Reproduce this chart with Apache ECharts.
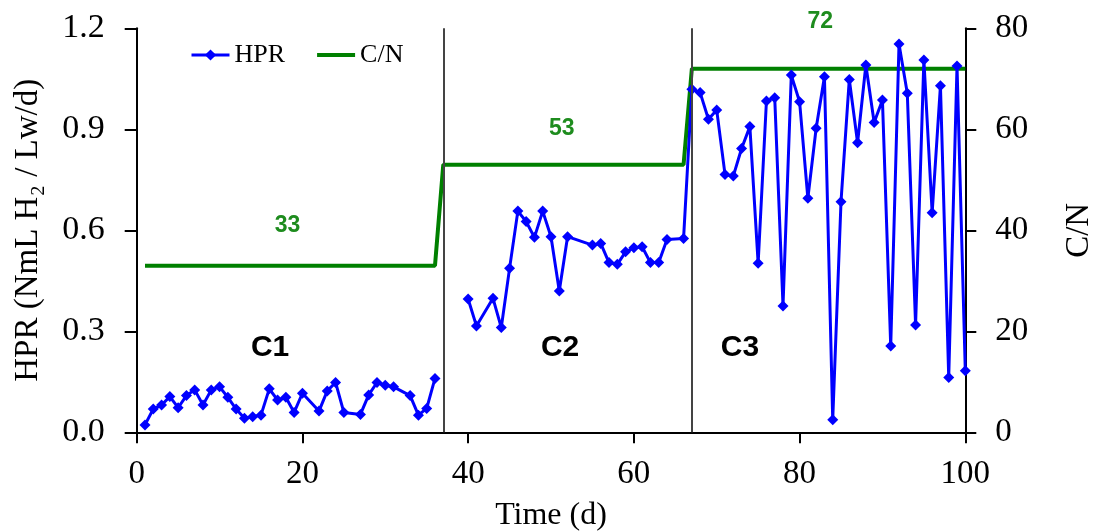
<!DOCTYPE html>
<html>
<head>
<meta charset="utf-8">
<script src="https://cdn.jsdelivr.net/npm/echarts@6/dist/echarts.min.js"></script>
<style>
html,body{margin:0;padding:0;background:#fff;}
#chart{width:1097px;height:531px;}
</style>
</head>
<body>
<div id="chart"></div>
<script>
// HPR data (day, value); null marks the gap between C1 and C2
const hprDays = [1,2,3,4,5,6,7,8,9,10,11,12,13,14,15,16,17,18,19,20,22,23,24,25,27,28,29,30,31,33,34,35,36,
  38,
  40,41,43,44,45,46,47,48,49,50,51,52,55,56,57,58,59,60,61,62,63,64,66,
  67,68,69,70,71,72,73,74,75,76,77,78,79,80,81,82,83,84,85,86,87,88,89,90,91,92,93,94,95,96,97,98,99,100];
const hprValues = [0.022,0.069,0.081,0.106,0.073,0.109,0.126,0.081,0.126,0.135,0.104,0.069,0.042,0.046,0.051,0.129,0.096,0.104,0.059,0.116,0.063,0.123,0.148,0.059,0.053,0.111,0.148,0.140,0.135,0.109,0.051,0.071,0.160,
  null,
  0.396,0.316,0.398,0.311,0.487,0.657,0.626,0.579,0.657,0.581,0.420,0.581,0.556,0.561,0.504,0.499,0.536,0.548,0.551,0.504,0.504,0.573,0.576,
  1.019,1.009,0.930,0.957,0.766,0.761,0.843,0.908,0.502,0.984,0.994,0.375,1.061,0.982,0.695,0.903,1.056,0.037,0.685,1.048,0.860,1.091,0.920,0.987,0.256,1.153,1.007,0.319,1.106,0.652,1.029,0.163,1.088,0.183];
// C/N data (step)
const cnDays = [1,36,37,66,67,100];
const cnValues = [33,33,53,53,72,72];
// Phase boundaries and labels
const phaseBounds = [37,67];
const phaseNames = ['C1','C2','C3'];
const cnLabels = ['33','53','72'];
// Axis ticks
const xTicks = [0,20,40,60,80,100];
const yLeftTicks = [0,0.3,0.6,0.9,1.2];
const yRightTicks = [0,20,40,60,80];

const serif = 'Liberation Serif, "Times New Roman", serif';
const sans = 'Liberation Sans, Arial, sans-serif';

const chart = echarts.init(document.getElementById('chart'), null, {renderer:'canvas'});

const hprData = hprDays.map((d,i)=>[d,hprValues[i]]);
const cnData = cnDays.map((d,i)=>[d,cnValues[i]]);

// annotation anchor points in data units (day, HPR)
const phaseLabelPos = [[16.1,0.25],[51.1,0.25],[72.8,0.25]];
const cnLabelPos = [[18.2,0.613],[51.3,0.903],[82.5,1.219]];

const option = {
  animation:false,
  backgroundColor:'#fff',
  grid:{left:136.7,right:131.7,top:28.3,bottom:98.7,containLabel:false,outerBoundsMode:'none'},
  legend:{
    left:185, top:37,
    itemWidth:38, itemHeight:14, itemGap:30,
    textStyle:{fontFamily:serif,fontSize:26,color:'#000'},
    data:[
      {name:'HPR',lineStyle:{width:3}},
      {name:'C/N',itemStyle:{opacity:0},lineStyle:{width:4}}
    ]
  },
  xAxis:{
    type:'value', min:xTicks[0], max:xTicks[xTicks.length-1], interval:20,
    name:'Time (d)', nameLocation:'middle', nameGap:67,
    nameTextStyle:{fontFamily:serif,fontSize:32,color:'#000'},
    axisLine:{show:true,lineStyle:{color:'#000',width:2}},
    axisTick:{show:true,inside:false,length:11,lineStyle:{color:'#000',width:2}},
    axisLabel:{fontFamily:serif,fontSize:33,color:'#000',margin:26},
    splitLine:{show:false}
  },
  yAxis:[{
    type:'value', min:yLeftTicks[0], max:yLeftTicks[yLeftTicks.length-1], interval:0.3, position:'left',
    name:'HPR (NmL H\u2082 / Lw/d)', nameLocation:'middle', nameGap:92,
    nameTextStyle:{fontFamily:serif,fontSize:33,color:'#000'},
    axisLine:{show:true,lineStyle:{color:'#000',width:2}},
    axisTick:{show:true,inside:false,length:12,lineStyle:{color:'#000',width:2}},
    axisLabel:{fontFamily:serif,fontSize:34,color:'#000',margin:32,formatter:v=>v.toFixed(1)},
    splitLine:{show:false}
  },{
    type:'value', min:yRightTicks[0], max:yRightTicks[yRightTicks.length-1], interval:20, position:'right',
    name:'C/N', nameLocation:'middle', nameGap:98, nameRotate:90,
    nameTextStyle:{fontFamily:serif,fontSize:33,color:'#000'},
    axisLine:{show:true,lineStyle:{color:'#000',width:2}},
    axisTick:{show:true,inside:false,length:11,lineStyle:{color:'#000',width:2}},
    axisLabel:{fontFamily:serif,fontSize:33,color:'#000',margin:30},
    splitLine:{show:false}
  }],
  series:[{
    name:'HPR', type:'line', yAxisIndex:0, data:hprData,
    connectNulls:false,
    symbol:'diamond', symbolSize:11, showSymbol:true,
    lineStyle:{color:'#0000FF',width:3},
    itemStyle:{color:'#0000FF'},
    z:3,
    markLine:{
      silent:true, symbol:['none','none'], label:{show:false},
      lineStyle:{color:'#444',width:2,type:'solid'},
      data:phaseBounds.map(x=>({xAxis:x}))
    }
  },{
    name:'C/N', type:'line', yAxisIndex:1, data:cnData,
    symbol:'none', showSymbol:false,
    lineStyle:{color:'#008000',width:4},
    itemStyle:{color:'#008000'},
    z:2
  }]
};
chart.setOption(option);

// place annotation texts using the chart's own scales
const texts = [];
phaseLabelPos.forEach((c,i)=>{
  const p = chart.convertToPixel({xAxisIndex:0,yAxisIndex:0}, c);
  texts.push({type:'text', x:p[0], y:p[1], z:10,
    style:{text:phaseNames[i], font:'bold 30px '+sans, fill:'#000', align:'center', verticalAlign:'middle'}});
});
cnLabelPos.forEach((c,i)=>{
  const p = chart.convertToPixel({xAxisIndex:0,yAxisIndex:0}, c);
  texts.push({type:'text', x:p[0], y:p[1], z:10,
    style:{text:cnLabels[i], font:'bold 23px '+sans, fill:'#1E8C1E', align:'center', verticalAlign:'middle'}});
});
chart.setOption({graphic:{elements:texts}});
</script>
</body>
</html>
